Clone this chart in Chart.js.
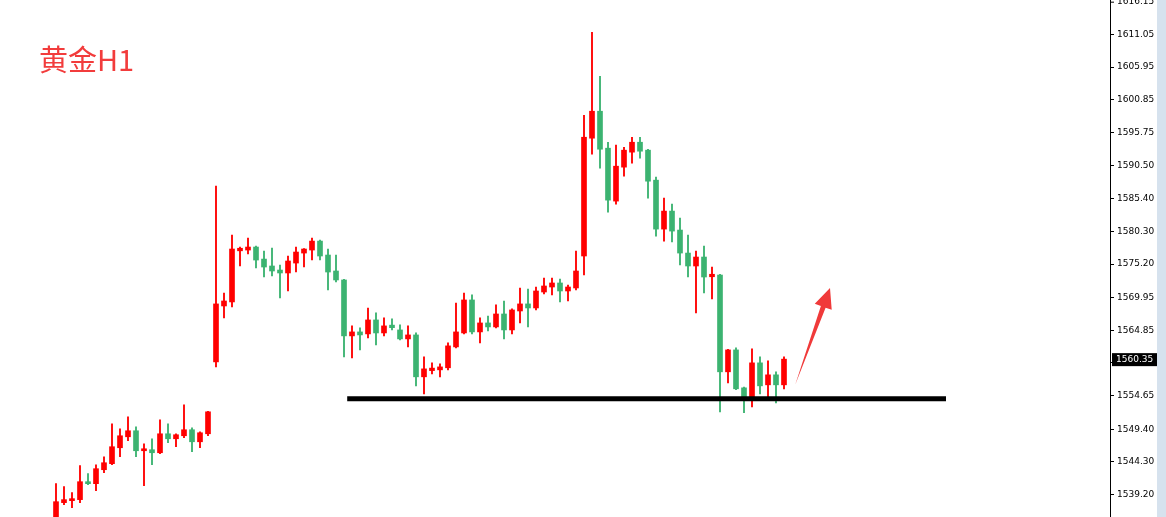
<!DOCTYPE html>
<html><head><meta charset="utf-8">
<script src="https://cdn.jsdelivr.net/npm/chart.js@4"></script>
<style>html,body{margin:0;padding:0;background:#fff}#wrap{position:relative;width:1166px;height:517px;overflow:hidden}
#strip{position:absolute;right:0;top:0;width:9px;height:517px;background:#d6e2ee}
#title{position:absolute;left:39px;top:37px;font:29px "Noto Sans CJK SC","Noto Sans",sans-serif;color:#f23c3c}</style>
</head><body><div id="wrap"><canvas id="c" width="1157" height="517"></canvas><div id="strip"></div><div id="title">黄金H1</div></div>
<script>
const opens=[1535.3,1537.95,1538.26,1538.42,1541.22,1540.91,1543.09,1544.03,1546.52,1548.23,1549.17,1546.05,1546.21,1545.74,1548.7,1547.92,1548.39,1549.33,1547.45,1548.7,
1559.92,1568.65,1569.28,1577.38,1577.38,1577.85,1575.97,1574.89,1574.26,1573.8,1575.35,1576.91,1577.38,1578.78,1576.6,1574.11,1572.71,1563.98,1564.6,1564.29,
1566.47,1564.44,1565.54,1564.91,1563.51,1564.13,1557.59,1558.68,1558.68,1559.0,1562.26,1564.44,1569.59,1564.6,1566.0,1565.38,1567.4,1564.91,1567.87,1568.97,
1568.34,1570.83,1571.61,1572.24,1570.99,1571.46,1576.45,1594.84,1599.05,1593.28,1585.02,1590.32,1592.66,1594.21,1592.97,1588.29,1580.65,1583.46,1580.5,1576.91,
1574.89,1576.29,1573.33,1573.48,1558.37,1561.79,1555.87,1554.31,1559.77,1556.34,1557.9,1556.34];
const highs=[1540.91,1540.44,1539.51,1543.72,1542.47,1543.87,1545.12,1550.26,1549.48,1551.35,1549.79,1547.14,1547.92,1550.88,1550.26,1548.7,1553.22,1549.64,1549.0,1552.2,
1587.35,1570.68,1579.72,1577.85,1579.25,1578.01,1577.22,1577.69,1575.04,1576.45,1577.85,1577.6,1579.25,1578.94,1577.54,1576.6,1572.8,1565.54,1565.22,1568.34,
1567.56,1566.78,1566.63,1565.69,1565.54,1564.44,1560.7,1559.77,1559.61,1562.89,1569.12,1570.68,1570.37,1566.78,1567.09,1568.81,1569.43,1568.19,1571.46,1571.3,
1571.61,1573.02,1573.02,1572.86,1571.93,1577.22,1598.42,1611.36,1604.5,1594.21,1593.75,1593.43,1594.99,1594.99,1593.12,1588.76,1585.49,1584.55,1582.37,1579.72,
1577.22,1578.01,1574.73,1573.6,1561.9,1562.11,1556.0,1561.95,1560.7,1560.08,1558.37,1560.7];
const lows=[1535.0,1537.64,1537.17,1537.95,1540.75,1539.82,1542.62,1543.87,1545.12,1547.61,1545.12,1540.6,1543.87,1545.6,1547.3,1546.68,1548.08,1545.89,1546.52,1548.39,
1559.14,1566.78,1568.5,1574.89,1576.76,1574.58,1573.17,1573.33,1569.9,1570.99,1573.95,1574.73,1575.82,1575.82,1571.15,1572.39,1560.7,1560.55,1561.79,1563.66,
1562.57,1563.98,1564.91,1563.35,1562.26,1556.18,1554.94,1558.05,1557.59,1558.68,1562.11,1564.29,1564.29,1562.89,1564.76,1565.22,1563.51,1564.29,1566.0,1565.38,
1568.03,1570.52,1570.37,1569.28,1569.43,1571.15,1573.48,1592.34,1590.16,1583.3,1584.55,1588.91,1590.94,1591.72,1585.49,1579.56,1578.78,1578.63,1575.04,1573.17,
1567.56,1570.68,1569.74,1552.13,1556.65,1555.6,1551.98,1552.91,1554.94,1554.31,1553.53,1555.72];
const closes=[1538.1,1538.42,1538.57,1541.22,1540.91,1543.25,1544.18,1546.68,1548.39,1549.17,1546.05,1546.36,1545.74,1548.7,1547.92,1548.55,1549.33,1547.45,1548.86,1552.13,
1568.97,1569.43,1577.54,1577.54,1577.85,1575.82,1574.73,1574.11,1573.8,1575.67,1577.07,1577.54,1578.78,1576.45,1573.95,1572.71,1563.98,1564.6,1564.13,1566.47,
1564.44,1565.54,1565.38,1563.51,1564.13,1557.59,1558.83,1558.83,1559.14,1562.42,1564.6,1569.59,1564.6,1566.0,1565.38,1567.4,1564.91,1568.03,1568.97,1568.34,
1570.99,1571.77,1572.24,1570.99,1571.61,1574.11,1594.99,1599.05,1593.12,1585.17,1590.47,1592.97,1594.21,1592.81,1588.13,1580.65,1583.46,1580.34,1576.91,1574.89,
1576.29,1573.17,1573.48,1558.37,1561.79,1555.72,1554.31,1559.77,1556.18,1557.9,1556.34,1560.35];
const topTick=1616.15;
const tickValues=[1611.05,1605.95,1600.85,1595.75,1590.50,1585.40,1580.30,1575.20,1569.95,1564.85,1559.75,1554.65,1549.40,1544.30,1539.20];
const supportLevel=1554.16, supportFrom=36.4, supportTo=111.25;
const arrowFrom={x:92.4,y:1556.34}, arrowTo={x:96.75,y:1571.46};
const lastPrice=1560.35;

const UP='#ff0000', DN='#3cb371';
const cols=closes.map((c,i)=>c>=opens[i]?UP:DN);
const wicks=highs.map((h,i)=>({x:i,y:[lows[i],h]}));
const bodies=opens.map((o,i)=>{let a=Math.min(o,closes[i]),b=Math.max(o,closes[i]);if(b-a<0.25){b+=0.12;a-=0.12;}return {x:i,y:[a,b]};});

const extras={id:'extras',afterDatasetsDraw(ch){
  const {ctx,scales:{x,y}}=ch;
  const x1=x.getPixelForValue(arrowFrom.x),y1=y.getPixelForValue(arrowFrom.y),x2=x.getPixelForValue(arrowTo.x),y2=y.getPixelForValue(arrowTo.y);
  const ang=Math.atan2(y2-y1,x2-x1);
  ctx.save();ctx.fillStyle='#f03a3a';
  const L=20,W=9,bx=x2-L*Math.cos(ang),by=y2-L*Math.sin(ang),nx=-Math.sin(ang),ny=Math.cos(ang);
  ctx.beginPath();ctx.moveTo(x1,y1);ctx.lineTo(bx+nx*2.5,by+ny*2.5);ctx.lineTo(bx+nx*W,by+ny*W);ctx.lineTo(x2,y2);
  ctx.lineTo(bx-nx*W,by-ny*W);ctx.lineTo(bx-nx*2.5,by-ny*2.5);ctx.closePath();ctx.fill();
  ctx.font='9px "DejaVu Sans"';ctx.textBaseline='middle';
  const ty=y.getPixelForValue(topTick);
  ctx.fillStyle='#000';ctx.fillRect(x.right,ty,4,1);ctx.fillText(topTick.toFixed(2),x.right+7,ty);
  ctx.fillRect(x.right,0,1,y.top);ctx.fillRect(x.right,y.bottom,1,517-y.bottom);
  const py=y.getPixelForValue(lastPrice);
  ctx.fillStyle='#000';ctx.fillRect(x.right+2,py-6,45,13);
  ctx.fillStyle='#fff';ctx.fillText(lastPrice.toFixed(2),x.right+6,py+0.5);
  ctx.restore();
}};

new Chart(document.getElementById('c'),{
  type:'bar',
  data:{datasets:[
    {type:'line',data:[{x:supportFrom,y:supportLevel},{x:supportTo,y:supportLevel}],borderColor:'#000',borderWidth:5,pointRadius:0},
    {data:wicks,backgroundColor:cols,barThickness:1.2,grouped:false,clip:false},
    {data:bodies,backgroundColor:cols,barThickness:5,grouped:false,clip:false}
  ]},
  options:{animation:false,responsive:false,maintainAspectRatio:false,
    plugins:{legend:{display:false},tooltip:{enabled:false}},
    scales:{
      x:{type:'linear',min:-7,max:131.75,display:false,offset:false},
      y:{position:'right',min:1537.02,max:1615.10,
        afterBuildTicks(s){s.ticks=tickValues.map(v=>({value:v}));},
        afterFit(s){s.width=47;},
        ticks:{color:'#000',font:{family:'DejaVu Sans',size:9},padding:3,callback:v=>v.toFixed(2)},
        grid:{drawOnChartArea:false,tickLength:4,color:'#000'},
        border:{color:'#000',width:1}}
    }},
  plugins:[extras]
});
</script></body></html>
